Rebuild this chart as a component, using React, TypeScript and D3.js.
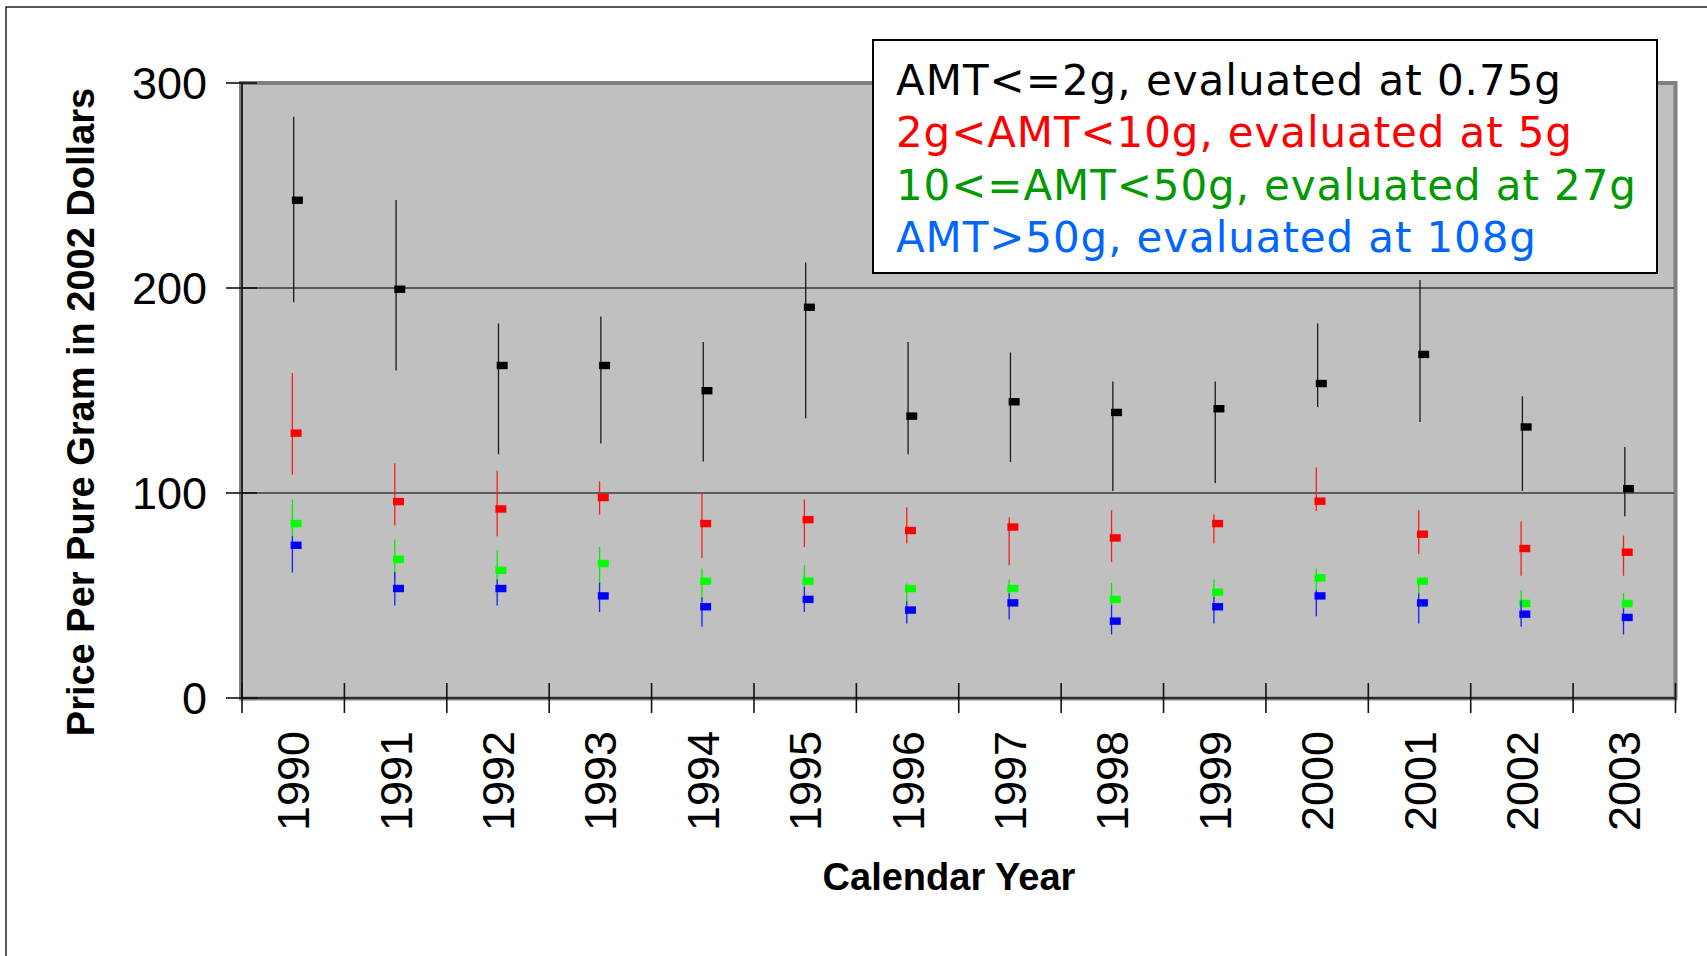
import React from "react";
import * as d3 from "d3";

const years = ["1990","1991","1992","1993","1994","1995","1996","1997","1998","1999","2000","2001","2002","2003"];

const blackMean = [242.8, 199.4, 162.2, 162.2, 149.9, 190.6, 137.5, 144.5, 139.3, 141.1, 153.4, 167.6, 132.2, 102.1];
const blackHi = [283.5, 242.9, 182.7, 186.1, 173.7, 212.5, 173.7, 168.5, 154.4, 154.4, 182.7, 203.9, 147.2, 122.4];
const blackLo = [193.0, 159.8, 118.9, 124.1, 115.4, 136.5, 118.9, 115.1, 101.0, 104.9, 141.9, 134.6, 101.0, 88.6];

const redMean = [129.2, 95.8, 92.2, 97.8, 85.1, 87.0, 81.7, 83.4, 78.1, 85.1, 96.0, 79.9, 72.9, 71.1];
const redHi = [158.5, 114.5, 110.9, 105.7, 100.3, 96.8, 93.0, 88.0, 91.6, 89.6, 112.5, 91.6, 86.2, 79.2];
const redLo = [109.0, 84.1, 78.9, 89.5, 68.3, 73.7, 75.4, 64.8, 66.4, 75.4, 91.2, 70.1, 59.6, 59.6];

const greenMean = [85.1, 67.6, 62.3, 65.6, 57.0, 57.0, 53.4, 53.4, 48.1, 51.6, 58.6, 57.0, 46.1, 46.1];
const greenHi = [96.8, 77.3, 72.1, 73.7, 63.2, 64.8, 55.9, 57.8, 56.2, 57.8, 63.2, 58.3, 52.6, 51.3];
const greenLo = [79.0, 58.0, 56.0, 55.0, 48.0, 53.0, 46.5, 50.0, 44.5, 48.5, 51.5, 50.0, 46.0, 43.0];

const blueMean = [74.5, 53.4, 53.4, 49.8, 44.5, 48.1, 42.9, 46.4, 37.5, 44.5, 49.8, 46.4, 40.9, 39.3];
const blueHi = [79.0, 61.5, 57.8, 56.2, 49.0, 54.2, 47.2, 51.0, 45.3, 49.3, 52.6, 51.0, 47.4, 43.7];
const blueLo = [61.2, 45.1, 45.1, 41.9, 34.7, 42.0, 36.4, 38.3, 31.0, 36.4, 39.9, 36.4, 34.7, 31.0];

const yTicks = [0, 100, 200, 300];
const gridValues = [100, 200];

const legendLabels = [
  "AMT<=2g, evaluated at 0.75g",
  "2g<AMT<10g, evaluated at 5g",
  "10<=AMT<50g, evaluated at 27g",
  "AMT>50g, evaluated at 108g",
];

const series = [
  { mean: blackMean, hi: blackHi, lo: blackLo, line: "#1a1a1a", marker: "#000000", dx: 0.5 },
  { mean: redMean, hi: redHi, lo: redLo, line: "#ff1a1a", marker: "#ff0000", dx: -0.8 },
  { mean: greenMean, hi: greenHi, lo: greenLo, line: "#00ee00", marker: "#00ff00", dx: -0.8 },
  { mean: blueMean, hi: blueHi, lo: blueLo, line: "#1a1aff", marker: "#0000ff", dx: -0.8 },
];
const legendColors = ["#000000", "#ff0000", "#009a00", "#0066ff"];
const legendWidths = [665, 676, 740, 640];

const W = 1707;
const H = 956;
const FONT = "'Liberation Sans', Arial, sans-serif";

export default function App() {
  const x = d3.scaleBand<string>().domain(years).range([242, 1675.5]).padding(0);
  const y = d3.scaleLinear().domain([0, 300]).range([698, 83]);
  const bw = x.bandwidth();
  const boundaries = d3.range(years.length + 1).map((i) => 242 + i * bw);

  return (
    <svg
      width={W}
      height={H}
      style={{ position: "absolute", left: 0, top: 0, background: "#fff" }}
      fontFamily={FONT}
    >
      <rect x={0} y={0} width={W} height={H} fill="#fff" />
      {/* outer frame */}
      <rect x={6} y={7} width={W + 50} height={H + 50} fill="none" stroke="#222" strokeWidth={1.5} />

      {/* plot area */}
      <rect x={241} y={83} width={1434.5} height={615.5} fill="#c0c0c0" stroke="#808080" strokeWidth={4} />

      {/* gridlines */}
      {gridValues.map((v) => (
        <line key={"g" + v} x1={242} x2={1674} y1={y(v)} y2={y(v)} stroke="#3a3a3a" strokeWidth={1.3} />
      ))}

      {/* axes */}
      <line x1={242} x2={242} y1={83} y2={698} stroke="#111" strokeWidth={1.6} />
      <line x1={242} x2={1676} y1={698} y2={698} stroke="#111" strokeWidth={1.6} />
      {yTicks.map((v) => (
        <line key={"yt" + v} x1={226} x2={257} y1={y(v)} y2={y(v)} stroke="#111" strokeWidth={1.6} />
      ))}
      {boundaries.map((bx, i) => (
        <line key={"xt" + i} x1={bx} x2={bx} y1={683} y2={713} stroke="#111" strokeWidth={1.6} />
      ))}

      {/* y tick labels */}
      {yTicks.map((v) => (
        <text key={"yl" + v} x={207} y={y(v)} dy="0.36em" textAnchor="end" fontSize={45} fill="#000">
          {v}
        </text>
      ))}

      {/* x tick labels */}
      {years.map((yr) => {
        const cx = (x(yr) as number) + bw / 2;
        return (
          <text
            key={"xl" + yr}
            transform={`translate(${cx + 16},731) rotate(-90)`}
            textAnchor="end"
            fontSize={45}
            fill="#000"
          >
            {yr}
          </text>
        );
      })}

      {/* axis titles */}
      <text
        transform="translate(94,412) rotate(-90)"
        textAnchor="middle"
        fontSize={38}
        fontWeight="bold"
        fill="#000"
      >
        Price Per Pure Gram in 2002 Dollars
      </text>
      <text x={949} y={890} textAnchor="middle" fontSize={38} fontWeight="bold" fill="#000">
        Calendar Year
      </text>

      {/* series */}
      {series.map((s, si) => (
        <g key={"s" + si}>
          {years.map((yr, i) => {
            const cx = (x(yr) as number) + bw / 2 + s.dx;
            return (
              <g key={yr}>
                <line x1={cx} x2={cx} y1={y(s.hi[i])} y2={y(s.lo[i])} stroke={s.line} strokeWidth={1.3} />
                <rect x={cx - 1.8} y={y(s.mean[i]) - 3.7} width={11} height={7.4} fill={s.marker} />
              </g>
            );
          })}
        </g>
      ))}

      {/* legend */}
      <rect x={873} y={40} width={784} height={233} fill="#fff" stroke="#000" strokeWidth={2} />
      {legendLabels.map((t, i) => (
        <text
          key={"lg" + i}
          x={896}
          y={95 + i * 52.4}
          fontFamily="'DejaVu Sans', Verdana, sans-serif"
          fontSize={42}
          fill={legendColors[i]}
          textLength={legendWidths[i]}
          lengthAdjust="spacing"
        >
          {t}
        </text>
      ))}
    </svg>
  );
}
